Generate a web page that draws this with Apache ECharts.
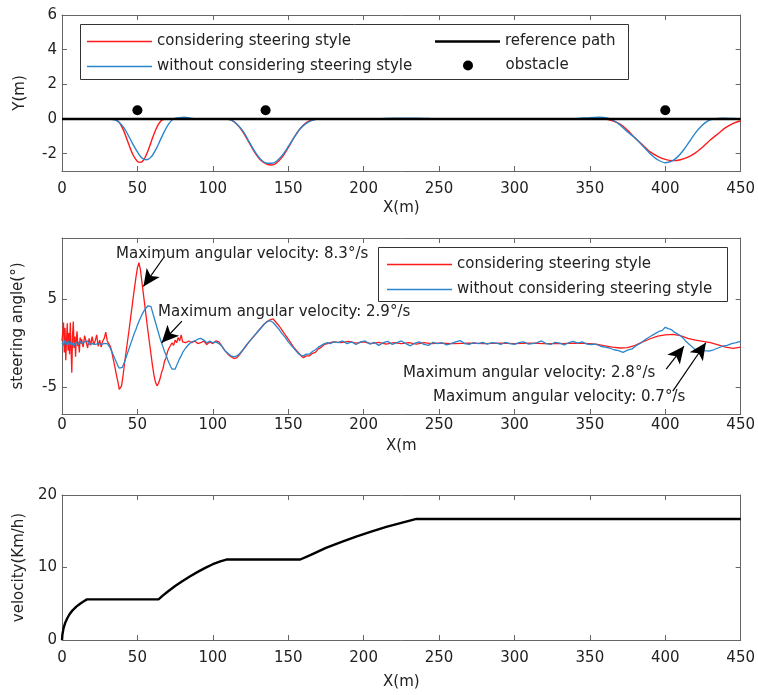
<!DOCTYPE html>
<html>
<head>
<meta charset="utf-8">
<script src="https://cdn.jsdelivr.net/npm/echarts@6/dist/echarts.min.js"></script>
<style>
html, body { margin: 0; padding: 0; background: #fff; }
#main { width: 758px; height: 695px; }
</style>
</head>
<body>
<div id="main"></div>
<script>
// lateral path, Y(m) vs X(m)
var pathRed = [
    [0,0],[30,0],[35,-0.02],[38,-0.2],[41,-0.7],[44,-1.4],[47,-2.05],[50,-2.45],[52,-2.5],[54,-2.38],
    [56,-2.05],[58,-1.6],[60,-1.1],[62,-0.65],[64,-0.3],[66,-0.08],[68,0],[75,0.02],[80,0.03],[90,0],
    [108,0],[112,-0.05],[116,-0.3],[120,-0.75],[124,-1.35],[128,-1.95],[132,-2.4],[136,-2.62],[139,-2.65],
    [142,-2.55],[146,-2.2],[150,-1.65],[154,-1.05],[158,-0.55],[162,-0.2],[166,-0.05],[170,0],[200,0],
    [230,0.02],[250,0],[300,0],[350,0],[360,0],[365,-0.1],[370,-0.3],[375,-0.65],[380,-1.1],[385,-1.5],
    [390,-1.9],[395,-2.15],[400,-2.33],[405,-2.4],[410,-2.35],[415,-2.2],[420,-1.95],[425,-1.6],[430,-1.2],
    [435,-0.85],[440,-0.5],[445,-0.25],[450,-0.1]
];
var pathBlue = [
    [0,0],[30,0],[35,-0.05],[38,-0.2],[41,-0.5],[44,-0.95],[47,-1.45],[50,-1.9],[53,-2.25],[56,-2.35],
    [59,-2.2],[62,-1.8],[65,-1.25],[68,-0.7],[71,-0.25],[74,0],[78,0.08],[81,0.1],[85,0.05],[90,0],
    [108,0],[112,-0.05],[116,-0.3],[120,-0.7],[124,-1.3],[128,-1.9],[132,-2.35],[136,-2.55],[139,-2.55],
    [142,-2.45],[146,-2.1],[150,-1.6],[154,-1.05],[158,-0.55],[162,-0.25],[166,-0.08],[170,0],[200,0],
    [220,0.04],[235,0.05],[250,0],[300,0],[340,0.02],[350,0.08],[356,0.1],[362,0.05],[366,-0.1],[370,-0.35],
    [375,-0.75],[380,-1.1],[385,-1.55],[390,-2.0],[395,-2.35],[400,-2.52],[404,-2.45],[408,-2.2],[412,-1.8],
    [416,-1.3],[420,-0.8],[424,-0.4],[428,-0.12],[432,0],[438,0.05],[445,0.03],[450,0]
];
var refPath = [[0,0],[450,0]];
var obstacles = [[50,0.5],[135,0.5],[400,0.5]];

// steering angle (deg) vs X(m)
var steerRed = [
    [0,0.3],[1,2.4],[1.5,-1.0],[2,1.8],[2.5,-1.9],[3,0.5],[3.5,2.3],[4,-0.8],[4.5,1.2],[5,-1.2],
    [5.5,2.4],[6,-0.6],[6.5,-3.3],[7,1.0],[7.5,2.5],[8,-0.5],[8.5,0.8],[9,-1.5],[9.5,0.6],[10,1.4],
    [10.5,-0.3],[11,0.2],[11.5,-1.0],[12,0.7],[12.5,0.0],[13,0.5],[14,-0.4],[15,0.9],[16,0.2],[17,-0.5],
    [18,0.6],[19,-0.2],[20,0.8],[21,-0.1],[22,0.3],[23,1.0],[24,-0.3],[25,0.4],[26,-0.4],[27,0.3],
    [28,0.6],[29,1.3],[30,0.3],[31,0.0],[32,-0.3],[33,-0.9],[34,-1.8],[35,-2.6],[36,-3.5],[37,-4.3],
    [38,-5.2],[38.8,-5.4],[39.5,-4.8],[40.5,-3.6],[41.5,-2.2],[43,-0.3],[44.5,1.6],[46,3.6],[47.5,5.6],
    [49,7.5],[50,8.6],[51,9.2],[52,8.4],[53,7.0],[54,5.6],[55,4.2],[56,2.8],[57,1.4],[58,0.1],[59,-1.2],
    [60,-2.5],[61,-3.6],[62,-4.4],[63,-4.8],[64,-4.5],[65,-4.0],[66,-3.3],[67,-2.8],[68,-2.0],[69,-1.6],
    [70,-0.9],[71,-0.5],[72,-0.7],[73,0.1],[74,-0.2],[75,0.4],[76,0.1],[77,0.7],[78,0.3],[79,1.0],
    [80,0.2],[81,0.4],[82,0.1],[84,0.3],[86,0.1],[88,0.3],[90,0.0],[92,0.1],[94,0.3],[96,-0.1],
    [98,0.2],[100,0.0],[102,0.3],[104,0.2],[106,-0.3],[108,-0.8],[110,-1.2],[112,-1.5],[114,-1.7],
    [116,-1.6],[118,-1.2],[120,-0.7],[122,-0.3],[124,0.2],[126,0.6],[128,1.0],[130,1.4],[132,1.8],
    [134,2.2],[136,2.5],[138,2.7],[140,2.8],[142,2.4],[144,2.0],[146,1.5],[148,1.0],[150,0.5],[152,0.0],
    [154,-0.5],[156,-0.9],[158,-1.3],[160,-1.6],[162,-1.4],[164,-1.4],[166,-1.1],[168,-1.0],[170,-0.6],
    [172,-0.4],[174,-0.1],[176,0.0],[178,0.1],[180,0.2],[185,0.1],[190,0.25],[195,0.05],[200,0.2],
    [205,0.0],[210,0.15],[215,-0.05],[220,0.1],[225,0.0],[230,0.1],[235,-0.05],[240,0.1],[245,0.0],
    [250,0.05],[260,0.0],[270,0.05],[280,0.0],[290,0.05],[300,0.0],[310,0.05],[320,0.0],[330,0.0],
    [340,0.05],[350,0.0],[355,-0.1],[360,-0.25],[365,-0.4],[370,-0.5],[375,-0.45],[380,-0.2],[385,0.2],
    [390,0.55],[395,0.85],[400,1.0],[405,1.05],[410,0.9],[415,0.6],[420,0.4],[425,0.25],[430,0.1],
    [435,-0.15],[440,-0.4],[445,-0.55],[450,-0.4]
];
var steerBlue = [
    [0,0.1],[1,-0.2],[2,0.4],[3,-0.1],[4,0.3],[5,-0.2],[6,0.2],[7,0.0],[8,-0.3],[9,0.2],[10,0.1],
    [11,-0.1],[12,0.3],[13,0.0],[14,-0.2],[15,0.2],[16,0.0],[17,0.3],[18,-0.1],[19,0.1],[20,0.0],
    [21,0.2],[22,-0.1],[23,0.1],[24,0.0],[25,0.2],[26,-0.1],[27,0.1],[28,0.0],[29,0.2],[30,0.0],
    [31,-0.2],[32,-0.5],[33,-0.9],[34,-1.3],[35,-1.7],[36,-2.1],[37,-2.5],[38,-2.8],[39,-3.0],[40,-2.7],
    [41,-2.3],[42,-1.8],[43,-1.3],[44,-0.8],[45,-0.3],[46,0.2],[47,0.7],[48,1.2],[49,1.6],[50,2.1],
    [51,2.5],[52,2.9],[53,3.3],[54,3.6],[55,3.9],[56,4.1],[57,4.3],[58,4.5],[59,4.2],[60,3.6],
    [61,3.0],[62,2.4],[63,1.8],[64,1.2],[65,0.6],[66,0.1],[67,-0.4],[68,-0.9],[69,-1.3],[70,-1.8],
    [71,-2.2],[72,-2.6],[73,-2.9],[74,-3.1],[75,-2.9],[76,-2.5],[77,-2.1],[78,-1.7],[79,-1.4],[80,-1.0],
    [82,-0.5],[84,-0.1],[86,0.2],[88,0.3],[90,0.5],[92,0.6],[94,0.4],[96,0.1],[98,0.3],[100,0.1],
    [102,0.2],[104,0.0],[106,-0.3],[108,-0.8],[110,-1.1],[112,-1.4],[114,-1.5],[116,-1.4],[118,-1.1],
    [120,-0.7],[122,-0.2],[124,0.2],[126,0.6],[128,1.0],[130,1.4],[132,1.8],[134,2.2],[136,2.5],
    [138,2.6],[140,2.4],[142,2.0],[144,1.6],[146,1.1],[148,0.7],[150,0.2],[152,-0.2],[154,-0.6],
    [156,-1.0],[158,-1.3],[160,-1.4],[162,-1.2],[164,-1.2],[166,-0.9],[168,-0.7],[170,-0.4],[172,-0.2],
    [174,0.0],[176,0.1],[178,0.0],[180,0.2],[183,0.1],[186,0.3],[189,0.0],[192,0.2],[195,-0.1],
    [198,0.2],[201,0.3],[204,-0.05],[207,0.15],[210,-0.2],[213,0.1],[216,0.25],[219,-0.1],[222,0.1],
    [225,0.3],[228,0.0],[231,-0.25],[234,0.05],[237,0.2],[240,-0.1],[243,-0.2],[246,0.15],[249,0.0],
    [252,0.1],[255,-0.15],[258,0.0],[261,0.2],[264,0.35],[267,0.0],[270,-0.1],[273,0.1],[276,0.0],
    [279,0.15],[282,-0.05],[285,0.1],[288,0.05],[291,-0.1],[294,0.15],[297,0.0],[300,-0.1],[303,0.1],
    [306,0.2],[309,-0.05],[312,0.0],[315,0.1],[318,0.3],[321,0.0],[324,-0.1],[327,0.15],[330,0.05],
    [333,-0.15],[336,0.1],[339,0.25],[342,0.05],[345,0.2],[348,-0.05],[351,-0.1],[354,-0.05],[357,-0.3],
    [360,-0.4],[363,-0.5],[366,-0.7],[369,-0.8],[372,-1.0],[375,-0.75],[378,-0.6],[381,-0.2],[384,0.1],
    [387,0.5],[390,0.8],[393,1.1],[396,1.4],[398,1.5],[400,1.85],[402,1.7],[404,1.6],[406,1.3],
    [408,1.1],[410,0.9],[412,0.6],[414,0.2],[416,-0.1],[418,-0.4],[420,-0.7],[423,-0.6],[426,-0.8],
    [429,-0.85],[432,-0.7],[435,-0.5],[438,-0.3],[441,-0.2],[444,0.0],[447,0.1],[450,0.25]
];

// velocity (Km/h) vs X(m)
var velocity = [
    [0,0],[0.3,0.8],[1,1.6],[2,2.3],[3.5,3.0],[5,3.55],[7,4.1],[9.5,4.6],[12,5.0],[14.5,5.35],[16.5,5.6],
    [64,5.6],[67,6.15],[70,6.65],[75,7.45],[80,8.15],[85,8.8],[90,9.4],[95,9.95],[100,10.45],[105,10.85],
    [109,11.1],[158,11.1],[165,11.75],[175,12.7],[185,13.5],[195,14.25],[205,14.95],[215,15.6],[225,16.15],
    [235,16.7],[450,16.7]
];

var pathYTicks = [-2, 0, 2, 4, 6];
var steerYTicks = [-5, 5];

// annotation arrows: [from, to] in data coords of the steering plot
var arrows = [
    [[67.9, 9.9], [54.0, 6.5]],
    [[79.5, 2.55], [66.1, 0.1]],
    [[400.6, -2.9], [412.4, -0.3]],
    [[405.0, -5.4], [426.9, 0.1]]
];
var notes = [
    ['Maximum angular velocity: 8.3°/s', 116, 254],
    ['Maximum angular velocity: 2.9°/s', 158, 312],
    ['Maximum angular velocity: 2.8°/s', 403, 373],
    ['Maximum angular velocity: 0.7°/s', 433, 397]
];

var FONT = 'DejaVu Sans';
var TXT = '#222';
var AX = '#666';
var RED = '#ff1a1a';
var BLUE = '#2a86cc';
var nameRed = 'considering steering style';
var nameBlue = 'without considering steering style';

function xAxisPair(grid, name, gap, margin) {
    var base = {
        type: 'value', gridIndex: grid, min: 0, max: 450, interval: 50,
        axisLine: {show: true, onZero: false, lineStyle: {color: AX, width: 1}},
        axisTick: {show: true, inside: true, length: 5, lineStyle: {color: AX}},
        splitLine: {show: false}
    };
    return [
        Object.assign({}, base, {
            position: 'bottom', name: name, nameLocation: 'middle', nameGap: gap,
            nameTextStyle: {fontFamily: FONT, fontSize: 15, color: TXT},
            axisLabel: {margin: margin, fontFamily: FONT, fontSize: 15, color: TXT}
        }),
        Object.assign({}, base, {position: 'top', axisLabel: {show: false}})
    ];
}

function yAxisPair(grid, min, max, ticks, interval, name, gap) {
    var base = {
        type: 'value', gridIndex: grid, min: min, max: max,
        axisLine: {show: true, onZero: false, lineStyle: {color: AX, width: 1}},
        axisTick: {show: true, inside: true, length: 5, lineStyle: {color: AX}},
        splitLine: {show: false}
    };
    if (ticks) {
        base.axisTick.customValues = ticks;
    } else {
        base.interval = interval;
    }
    var left = Object.assign({}, base, {
        position: 'left', name: name, nameLocation: 'middle', nameGap: gap,
        nameTextStyle: {fontFamily: FONT, fontSize: 15, color: TXT},
        axisLabel: {margin: 5, fontFamily: FONT, fontSize: 15, color: TXT}
    });
    if (ticks) left.axisLabel.customValues = ticks;
    var right = Object.assign({}, base, {position: 'right', axisLabel: {show: false}});
    return [left, right];
}

var xAxes = [].concat(
    xAxisPair(0, 'X(m)', 30, 11),
    xAxisPair(1, 'X(m', 25, 4),
    xAxisPair(2, 'X(m)', 35, 11)
);
var yAxes = [].concat(
    yAxisPair(0, -3, 6, pathYTicks, null, 'Y(m)', 34),
    yAxisPair(1, -8, 12, steerYTicks, null, 'steering angle(°)', 36),
    yAxisPair(2, 0, 20, null, 10, 'velocity(Km/h)', 29)
);

var legendText = {fontFamily: FONT, fontSize: 15, color: TXT, lineHeight: 14};

var graphics = [
    {type: 'rect', shape: {x: 80.5, y: 24.5, width: 548, height: 55}, style: {fill: '#fff', stroke: '#333', lineWidth: 1}, z: 1},
    {type: 'rect', shape: {x: 378.5, y: 247.5, width: 349, height: 54}, style: {fill: '#fff', stroke: '#333', lineWidth: 1}, z: 1}
];
notes.forEach(function (n) {
    graphics.push({
        type: 'text', x: n[1], y: n[2], z: 10,
        style: {text: n[0], fontFamily: FONT, fontSize: 15, fill: TXT, verticalAlign: 'middle'}
    });
});

var myChart = echarts.init(document.getElementById('main'));
myChart.setOption({
    animation: false,
    backgroundColor: '#fff',
    grid: [
        {left: 62, right: 13, top: 15, height: 156},
        {left: 62, right: 13, top: 238, height: 176},
        {left: 62, right: 13, top: 495, height: 145}
    ],
    xAxis: xAxes,
    yAxis: yAxes,
    legend: [
        {
            orient: 'vertical', left: 87, top: 34, padding: 0, itemGap: 10,
            itemWidth: 65, itemHeight: 1.5, textStyle: legendText, z: 5,
            data: [{name: nameRed, icon: 'rect'}, {name: nameBlue, icon: 'rect'}]
        },
        {
            orient: 'vertical', left: 435, top: 34, padding: 0,
            itemWidth: 65, itemHeight: 2.6, textStyle: legendText, z: 5,
            data: [{name: 'reference path', icon: 'rect'}]
        },
        {
            orient: 'vertical', left: 463, top: 58, padding: 0,
            itemWidth: 65, itemHeight: 10, textStyle: legendText, z: 5,
            data: [{name: 'obstacle', icon: 'circle'}]
        },
        {
            orient: 'vertical', left: 387, top: 257, padding: 0, itemGap: 10,
            itemWidth: 65, itemHeight: 1.5, textStyle: legendText, z: 5,
            data: [{name: nameRed, icon: 'rect'}, {name: nameBlue, icon: 'rect'}]
        }
    ],
    graphic: graphics,
    series: [
        {
            name: nameRed, type: 'line', xAxisIndex: 0, yAxisIndex: 0, data: pathRed,
            smooth: 0.3, showSymbol: false, symbol: 'none', lineStyle: {color: RED, width: 1.4}, itemStyle: {color: RED}
        },
        {
            name: nameBlue, type: 'line', xAxisIndex: 0, yAxisIndex: 0, data: pathBlue,
            smooth: 0.3, showSymbol: false, symbol: 'none', lineStyle: {color: BLUE, width: 1.4}, itemStyle: {color: BLUE}
        },
        {
            name: 'reference path', type: 'line', xAxisIndex: 0, yAxisIndex: 0, data: refPath,
            showSymbol: false, symbol: 'none', lineStyle: {color: '#000', width: 2.6}, itemStyle: {color: '#000'}
        },
        {
            name: 'obstacle', type: 'scatter', xAxisIndex: 0, yAxisIndex: 0, data: obstacles,
            symbol: 'circle', symbolSize: 10, itemStyle: {color: '#000', opacity: 1}
        },
        {
            name: nameRed, type: 'line', xAxisIndex: 2, yAxisIndex: 2, data: steerRed,
            showSymbol: false, symbol: 'none', lineStyle: {color: RED, width: 1.3}, itemStyle: {color: RED}
        },
        {
            name: nameBlue, type: 'line', xAxisIndex: 2, yAxisIndex: 2, data: steerBlue,
            showSymbol: false, symbol: 'none', lineStyle: {color: BLUE, width: 1.3}, itemStyle: {color: BLUE},
            markLine: {
                silent: true,
                symbol: ['none', 'arrow'],
                symbolSize: [12, 17],
                label: {show: false},
                lineStyle: {color: '#000', width: 1.2, type: 'solid'},
                data: arrows.map(function (a) {
                    return [{coord: a[0]}, {coord: a[1]}];
                })
            }
        },
        {
            name: 'velocity', type: 'line', xAxisIndex: 4, yAxisIndex: 4, data: velocity,
            showSymbol: false, symbol: 'none', lineStyle: {color: '#000', width: 2.4}, itemStyle: {color: '#000'}
        }
    ]
});
</script>
</body>
</html>
